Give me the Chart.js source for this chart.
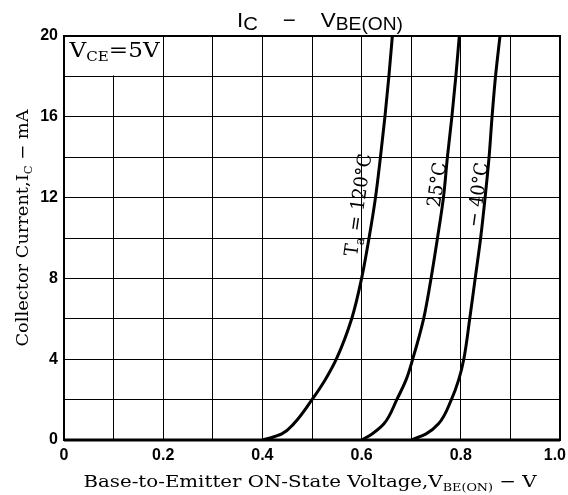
<!DOCTYPE html>
<html>
<head>
<meta charset="utf-8">
<script src="https://cdn.jsdelivr.net/npm/chart.js@4/dist/chart.umd.min.js"></script>
<style>
  html, body { margin: 0; padding: 0; background: #fff; }
  #wrap { width: 568px; height: 495px; }
</style>
</head>
<body>
<div id="wrap"><canvas id="chart" width="568" height="495"></canvas></div>
<script>
// DATA
const ta120V = [0.40, 0.416, 0.439, 0.463, 0.500, 0.527, 0.549, 0.580, 0.600, 0.615, 0.628, 0.638, 0.647, 0.655, 0.662];
const ta120I = [0, 0.1, 0.3, 0.8, 2, 3, 4, 6, 8, 10, 12, 14, 16, 18, 20];
const ta25V = [0.600, 0.621, 0.645, 0.671, 0.690, 0.703, 0.725, 0.740, 0.753, 0.765, 0.773, 0.782, 0.790, 0.797];
const ta25I = [0, 0.3, 0.8, 2, 3, 4, 6, 8, 10, 12, 14, 16, 18, 20];
const taM40V = [0.700, 0.730, 0.755, 0.781, 0.796, 0.806, 0.818, 0.829, 0.840, 0.849, 0.857, 0.863, 0.870, 0.879];
const taM40I = [0, 0.3, 0.8, 2, 3, 4, 6, 8, 10, 12, 14, 16, 18, 20];

const xTickValues = [0, 0.2, 0.4, 0.6, 0.8, 1.0];
const xTickLabels = ['0', '0.2', '0.4', '0.6', '0.8', '1.0'];
const yTickLabels = ['0', '4', '8', '12', '16', '20'];

// curve labels: text runs, where they sit (data units) and their length in px
const curveLabels = [
  { v: 0.593, i: 11.6, w: 103, runs: [['T', 0], ['a', 5], [' = 120°C', 0]] },
  { v: 0.752, i: 12.6, w: 45, runs: [['25°C', 0]] },
  { v: 0.834, i: 12.1, w: 65, runs: [['− 40°C', 0]] }
];

const toPoints = (vs, is) => vs.map((v, k) => ({ x: v, y: is[k] }));

const SERIF = "'DejaVu Serif', 'Liberation Serif', serif";
const SANS = "'Liberation Sans', 'DejaVu Sans', sans-serif";
const TICKFONT = "'Liberation Sans', sans-serif";

// draw a row of text pieces (for subscripts), centred, optionally rotated and fitted to a width
const drawRuns = (ctx, runs, x, y, angle, width) => {
  ctx.save();
  ctx.translate(x, y);
  ctx.rotate(angle || 0);
  ctx.textAlign = 'left';
  ctx.textBaseline = 'alphabetic';
  let total = 0;
  runs.forEach(r => { ctx.font = r.f; total += ctx.measureText(r.t).width; });
  if (width) ctx.scale(width / total, 1);
  let cur = -total / 2;
  runs.forEach(r => {
    ctx.font = r.f;
    ctx.fillText(r.t, cur, r.dy || 0);
    cur += ctx.measureText(r.t).width;
  });
  ctx.restore();
};

const decorations = {
  id: 'decorations',
  beforeDatasetsDraw(chart) {
    const { ctx, scales: { x, y } } = chart;
    // V_CE box in the top-left cells
    const l = x.getPixelForValue(0), r = x.getPixelForValue(0.2);
    const t = y.getPixelForValue(20), b = y.getPixelForValue(18);
    ctx.save();
    ctx.fillStyle = '#fff';
    ctx.fillRect(l + 1, t + 1, r - l - 2, b - t - 2);
    ctx.fillStyle = '#000';
    drawRuns(ctx, [
      { t: 'V', f: '20px ' + SERIF },
      { t: 'CE', f: '13px ' + SERIF, dy: 4 },
      { t: '=5V', f: '20px ' + SERIF }
    ], (l + r) / 2 + 1, t + 21, 0, 90);
    ctx.restore();
  },
  afterDatasetsDraw(chart) {
    const { ctx, chartArea: a, scales: { x, y } } = chart;
    ctx.save();
    ctx.strokeStyle = '#000';
    ctx.lineWidth = 2;
    ctx.strokeRect(a.left, a.top, a.right - a.left, a.bottom - a.top);
    ctx.lineWidth = 3;
    ctx.beginPath();
    ctx.moveTo(a.left, a.bottom);
    ctx.lineTo(a.right, a.bottom);
    ctx.stroke();

    ctx.fillStyle = '#000';
    // x tick labels (last one kept inside the page like the original)
    ctx.font = 'bold 16px ' + TICKFONT;
    ctx.textBaseline = 'top';
    ctx.textAlign = 'center';
    xTickValues.forEach((v, k) => {
      const w = ctx.measureText(xTickLabels[k]).width;
      const px = Math.min(x.getPixelForValue(v), chart.width - 2 - w / 2);
      ctx.fillText(xTickLabels[k], px, a.bottom + 8);
    });

    // curve labels
    curveLabels.forEach(c => {
      const runs = c.runs.map(([t, dy]) => ({ t, dy, f: (dy ? '13px ' : '19px ') + SERIF }));
      drawRuns(ctx, runs, x.getPixelForValue(c.v) + 6, y.getPixelForValue(c.i), -82 * Math.PI / 180, c.w);
    });

    // title
    drawRuns(ctx, [
      { t: 'I', f: '21px ' + SANS },
      { t: 'C', f: '19px ' + SANS, dy: 3 },
      { t: '    −    ', f: '21px ' + SANS },
      { t: 'V', f: '21px ' + SANS },
      { t: 'BE(ON)', f: '18px ' + SANS, dy: 3 }
    ], 320, 27, 0, 166);

    // x axis title
    drawRuns(ctx, [
      { t: 'Base-to-Emitter ON-State Voltage,V', f: '17px ' + SERIF },
      { t: 'BE(ON)', f: '11px ' + SERIF, dy: 4 },
      { t: ' − V', f: '17px ' + SERIF }
    ], 310, 487, 0, 453);

    // y axis title
    drawRuns(ctx, [
      { t: 'Collector Current,I', f: '17px ' + SERIF },
      { t: 'C', f: '11px ' + SERIF, dy: 4 },
      { t: ' − mA', f: '17px ' + SERIF }
    ], 28, 228, -Math.PI / 2, 237);
    ctx.restore();
  }
};

const lineStyle = {
  borderColor: '#000',
  borderWidth: 3,
  pointRadius: 0,
  fill: false,
  cubicInterpolationMode: 'monotone'
};

new Chart(document.getElementById('chart'), {
  type: 'line',
  data: {
    datasets: [
      { label: '120', data: toPoints(ta120V, ta120I), ...lineStyle },
      { label: '25', data: toPoints(ta25V, ta25I), ...lineStyle },
      { label: '-40', data: toPoints(taM40V, taM40I), ...lineStyle }
    ]
  },
  options: {
    indexAxis: 'y',
    responsive: false,
    animation: false,
    devicePixelRatio: 1,
    layout: { padding: { left: 0, top: 36, right: 8, bottom: 0 } },
    plugins: { legend: { display: false }, tooltip: { enabled: false } },
    scales: {
      x: {
        type: 'linear',
        position: 'bottom',
        min: 0,
        max: 1,
        afterFit: (s) => { s.height = 55; s.paddingLeft = 0; s.paddingRight = 0; },
        grid: { color: '#000', lineWidth: 1, drawTicks: false },
        border: { color: '#000', width: 2 },
        ticks: { stepSize: 0.1, display: false }
      },
      y: {
        type: 'linear',
        position: 'left',
        min: 0,
        max: 20,
        afterFit: (s) => { s.width = 64; },
        grid: { color: '#000', lineWidth: 1, drawTicks: false },
        border: { color: '#000', width: 2 },
        ticks: {
          stepSize: 2,
          padding: 6,
          autoSkip: false,
          color: '#000',
          font: { family: TICKFONT, size: 16, weight: 'bold' },
          callback: (value) => {
            const k = Math.round(value);
            return k % 4 === 0 ? yTickLabels[k / 4] : '';
          }
        }
      }
    }
  },
  plugins: [decorations]
});
</script>
</body>
</html>
